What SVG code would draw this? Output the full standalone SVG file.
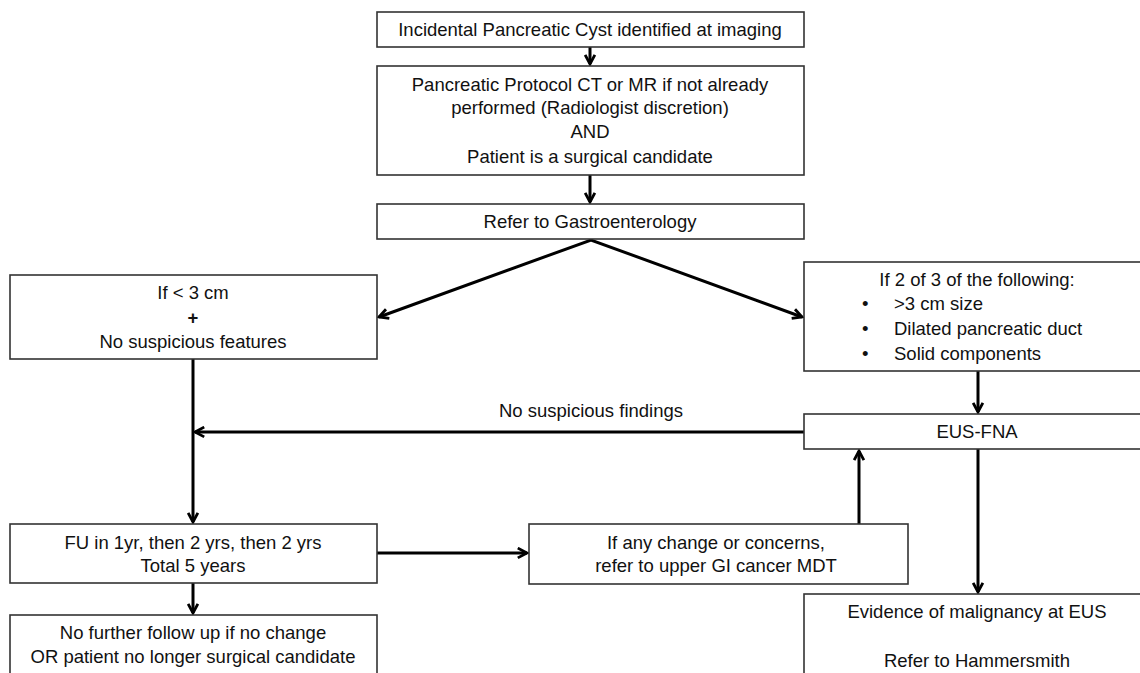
<svg xmlns="http://www.w3.org/2000/svg" width="1140" height="673" viewBox="0 0 1140 673">
<style>
.box{fill:#fff;stroke:#333;stroke-width:1.6}
.t{font-family:"Liberation Sans",Arial,sans-serif;font-size:18.5px;fill:#111;text-anchor:middle}
.tl{font-family:"Liberation Sans",Arial,sans-serif;font-size:18.5px;fill:#111}
.c{fill:none;stroke:#000;stroke-width:3}
</style>
<defs>
<marker id="arr" viewBox="0 0 12 12" refX="10.5" refY="6" markerWidth="13" markerHeight="13" markerUnits="userSpaceOnUse" orient="auto">
<path d="M2,1.5 L10.5,6 L2,10.5" fill="none" stroke="#000" stroke-width="2.6"/>
</marker>
<marker id="arrS" viewBox="0 0 12 12" refX="10.5" refY="6" markerWidth="13" markerHeight="13" markerUnits="userSpaceOnUse" orient="auto-start-reverse">
<path d="M2,1.5 L10.5,6 L2,10.5" fill="none" stroke="#000" stroke-width="2.6"/>
</marker>
</defs>
<rect width="1140" height="673" fill="#fff"/>
<g id="connectors">
<line class="c" x1="590" y1="47" x2="590" y2="64" marker-end="url(#arr)"/>
<line class="c" x1="590" y1="175" x2="590" y2="202" marker-end="url(#arr)"/>
<polyline class="c" points="379,317 591,240 802,317" marker-start="url(#arrS)" marker-end="url(#arr)"/>
<line class="c" x1="193" y1="359" x2="193" y2="522" marker-end="url(#arr)"/>
<line class="c" x1="804" y1="432" x2="195" y2="432" marker-end="url(#arr)"/>
<line class="c" x1="978" y1="371" x2="978" y2="412" marker-end="url(#arr)"/>
<line class="c" x1="377" y1="553" x2="527" y2="553" marker-end="url(#arr)"/>
<line class="c" x1="859" y1="524" x2="859" y2="451" marker-end="url(#arr)"/>
<line class="c" x1="978" y1="449" x2="978" y2="592" marker-end="url(#arr)"/>
<line class="c" x1="193" y1="583" x2="193" y2="613" marker-end="url(#arr)"/>
</g>
<g id="n1"><rect class="box" x="377" y="12" width="427" height="35"/><text class="t" x="590" y="36">Incidental Pancreatic Cyst identified at imaging</text></g>
<g id="n2"><rect class="box" x="377" y="66" width="427" height="109"/>
<text class="t" x="590" y="91">Pancreatic Protocol CT or MR if not already</text>
<text class="t" x="590" y="114">performed (Radiologist discretion)</text>
<text class="t" x="590" y="138">AND</text>
<text class="t" x="590" y="163">Patient is a surgical candidate</text></g>
<g id="n3"><rect class="box" x="377" y="204" width="427" height="35"/><text class="t" x="590" y="228">Refer to Gastroenterology</text></g>
<g id="n4"><rect class="box" x="10" y="275" width="367" height="84"/>
<text class="t" x="193" y="299">If &lt; 3 cm</text>
<text class="t" x="193" y="324" font-weight="bold">+</text>
<text class="t" x="193" y="348">No suspicious features</text></g>
<g id="n5"><rect class="box" x="804" y="262" width="346" height="109"/>
<text class="t" x="977" y="286">If 2 of 3 of the following:</text>
<text class="tl" x="862" y="310">•</text><text class="tl" x="894" y="310">&gt;3 cm size</text>
<text class="tl" x="862" y="335">•</text><text class="tl" x="894" y="335">Dilated pancreatic duct</text>
<text class="tl" x="862" y="360">•</text><text class="tl" x="894" y="360">Solid components</text></g>
<g id="n6"><rect class="box" x="804" y="414" width="346" height="35"/><text class="t" x="977" y="438">EUS-FNA</text></g>
<text class="t" x="591" y="417">No suspicious findings</text>
<g id="n7"><rect class="box" x="10" y="524" width="367" height="59"/>
<text class="t" x="193" y="549">FU in 1yr, then 2 yrs, then 2 yrs</text>
<text class="t" x="193" y="572">Total 5 years</text></g>
<g id="n8"><rect class="box" x="529" y="524" width="379" height="60"/>
<text class="t" x="716" y="549">If any change or concerns,</text>
<text class="t" x="716" y="572">refer to upper GI cancer MDT</text></g>
<g id="n9"><rect class="box" x="10" y="615" width="367" height="70"/>
<text class="t" x="193" y="639">No further follow up if no change</text>
<text class="t" x="193" y="663">OR patient no longer surgical candidate</text></g>
<g id="n10"><rect class="box" x="804" y="594" width="346" height="90"/>
<text class="t" x="977" y="618">Evidence of malignancy at EUS</text>
<text class="t" x="977" y="667">Refer to Hammersmith</text></g>
</svg>
